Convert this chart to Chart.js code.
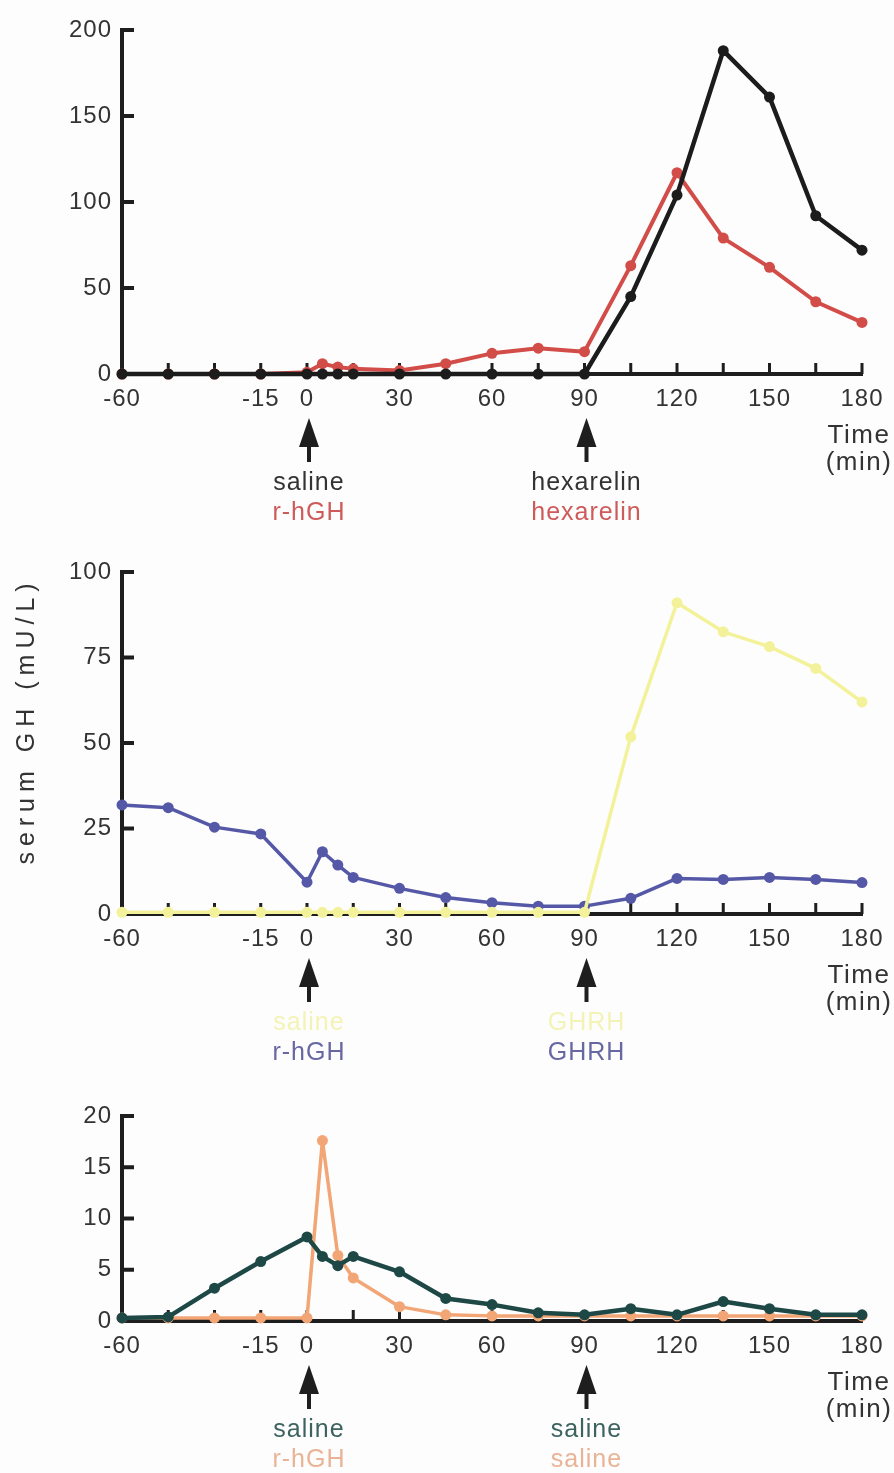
<!DOCTYPE html>
<html>
<head>
<meta charset="utf-8">
<script src="https://cdn.jsdelivr.net/npm/chart.js@4"></script>
<style>
  body { margin: 0; background: #fdfdfd; }
  canvas { position: absolute; left: 0; }
</style>
</head>
<body>
<canvas id="hexChart" width="894" height="545" style="top:0"></canvas>
<canvas id="ghrhChart" width="894" height="545" style="top:540px"></canvas>
<canvas id="salineChart" width="894" height="388" style="top:1085px"></canvas>
<script>
// sampling times (min)
const times = [-60, -45, -30, -15, 0, 5, 10, 15, 30, 45, 60, 75, 90, 105, 120, 135, 150, 165, 180];
const tickLabels = [-60, -15, 0, 30, 60, 90, 120, 150, 180];
const arrowTimes = [0, 90];

// panel 1: saline/r-hGH at 0, hexarelin at 90
const hexControl = [0, 0, 0, 0, 0, 0, 0, 0, 0, 0, 0, 0, 0, 45, 104, 188, 161, 92, 72];
const hexRhgh = [0, 0, 0, 0, 1, 6, 4, 3, 2, 6, 12, 15, 13, 63, 117, 79, 62, 42, 30];

// panel 2: saline/r-hGH at 0, GHRH at 90
const ghrhControl = [0.5, 0.5, 0.5, 0.5, 0.5, 0.5, 0.5, 0.5, 0.5, 0.5, 0.5, 0.5, 0.5, 51.8, 91, 82.5, 78.2, 71.8, 62];
const ghrhRhgh = [31.9, 31.1, 25.4, 23.4, 9.3, 18.2, 14.3, 10.7, 7.5, 4.8, 3.3, 2.3, 2.3, 4.6, 10.4, 10.1, 10.7, 10.1, 9.2];

// panel 3: saline/r-hGH at 0, saline at 90
const salControl = [0.3, 0.4, 3.2, 5.8, 8.2, 6.3, 5.4, 6.3, 4.8, 2.2, 1.6, 0.8, 0.6, 1.2, 0.6, 1.9, 1.2, 0.6, 0.6];
const salRhgh = [0.3, 0.3, 0.3, 0.3, 0.3, 17.6, 6.4, 4.2, 1.4, 0.6, 0.5, 0.5, 0.5, 0.5, 0.5, 0.5, 0.5, 0.5, 0.5];

const axisColor = "#1e1e1e";
const textColor = "#333333";
const family = "'Liberation Sans', Arial, sans-serif";

function pts(vals) {
  return vals.map((v, i) => ({ x: times[i], y: v }));
}

function series(vals, color, width) {
  return {
    data: pts(vals),
    borderColor: color,
    backgroundColor: color,
    borderWidth: width,
    borderJoinStyle: "round",
    borderCapStyle: "round",
    pointRadius: 5.5,
    pointBorderWidth: 0,
    pointBackgroundColor: color,
    tension: 0,
    clip: false
  };
}

// inward tick marks, arrows and the text under them
const notes = {
  id: "notes",
  beforeDraw(chart) {
    chart.ctx.letterSpacing = "1px";
  },
  beforeDatasetsDraw(chart) {
    const { ctx, chartArea: a, scales: { x, y } } = chart;
    ctx.save();
    ctx.strokeStyle = axisColor;
    ctx.lineWidth = 4;
    ctx.beginPath();
    y.ticks.forEach(t => {
      const py = y.getPixelForValue(t.value);
      ctx.moveTo(a.left, py);
      ctx.lineTo(a.left + 12, py);
    });
    ctx.stroke();
    ctx.lineWidth = 3;
    ctx.beginPath();
    x.ticks.forEach(t => {
      const px = x.getPixelForValue(t.value);
      ctx.moveTo(px, a.bottom);
      ctx.lineTo(px, a.bottom - 11);
    });
    ctx.stroke();
    ctx.restore();
  },
  afterDraw(chart, args, opts) {
    const { ctx, chartArea: a, scales: { x } } = chart;
    const base = a.bottom;
    ctx.save();
    arrowTimes.forEach((t, i) => {
      const px = x.getPixelForValue(t) + 2;
      ctx.fillStyle = axisColor;
      ctx.beginPath();
      ctx.moveTo(px, base + 44);
      ctx.lineTo(px + 10, base + 73);
      ctx.lineTo(px - 10, base + 73);
      ctx.closePath();
      ctx.fill();
      ctx.fillRect(px - 2, base + 70, 4, 18);
      ctx.font = "25px " + family;
      ctx.letterSpacing = "1px";
      ctx.textAlign = "center";
      ctx.textBaseline = "alphabetic";
      opts.rows.forEach((row, r) => {
        ctx.fillStyle = row.color;
        ctx.fillText(row.text[i], px, base + 116 + r * 30);
      });
    });
    ctx.fillStyle = textColor;
    ctx.font = "26px " + family;
    ctx.letterSpacing = "1.5px";
    ctx.textAlign = "center";
    ctx.fillText("Time", 859, base + 69);
    ctx.fillText("(min)", 859, base + 96);
    if (opts.axisTitle) {
      ctx.translate(27, opts.axisTitleY);
      ctx.rotate(-Math.PI / 2);
      ctx.font = "25px " + family;
      ctx.letterSpacing = "6px";
      ctx.textBaseline = "middle";
      ctx.fillText(opts.axisTitle, 0, 0);
    }
    ctx.restore();
  }
};

function panel(id, cfg) {
  return new Chart(document.getElementById(id), {
    type: "line",
    data: { datasets: cfg.datasets },
    options: {
      responsive: false,
      animation: false,
      events: [],
      layout: { padding: { top: cfg.padTop, right: 32, left: 0, bottom: 0 } },
      plugins: {
        legend: { display: false },
        tooltip: { enabled: false },
        notes: { rows: cfg.rows, axisTitle: cfg.axisTitle, axisTitleY: cfg.axisTitleY }
      },
      scales: {
        x: {
          type: "linear",
          min: -60,
          max: 180,
          afterFit: s => { s.height = cfg.xHeight; },
          grid: { display: false, drawTicks: false },
          border: { display: true, color: axisColor, width: 4 },
          ticks: {
            stepSize: 15,
            autoSkip: false,
            maxRotation: 0,
            padding: 11,
            color: textColor,
            font: { family, size: 24 },
            callback: v => tickLabels.includes(v) ? String(v) : ""
          }
        },
        y: {
          min: 0,
          max: cfg.max,
          afterFit: s => { s.width = 122; },
          grid: { display: false, drawTicks: false },
          border: { display: true, color: axisColor, width: 4 },
          ticks: {
            stepSize: cfg.step,
            padding: 10,
            color: textColor,
            font: { family, size: 24 }
          }
        }
      }
    },
    plugins: [notes]
  });
}

panel("hexChart", {
  padTop: 30, xHeight: 171, max: 200, step: 50,
  datasets: [series(hexControl, "#1c1c1c", 4.5), series(hexRhgh, "#d24c48", 4)],
  rows: [
    { text: ["saline", "hexarelin"], color: "#333333" },
    { text: ["r-hGH", "hexarelin"], color: "#cf5a5a" }
  ]
});

panel("ghrhChart", {
  padTop: 32, xHeight: 171, max: 100, step: 25,
  datasets: [series(ghrhControl, "#f3f29a", 3.5), series(ghrhRhgh, "#5558a6", 3.5)],
  rows: [
    { text: ["saline", "GHRH"], color: "#f4f3b6" },
    { text: ["r-hGH", "GHRH"], color: "#6767a4" }
  ],
  axisTitle: "serum GH (mU/L)",
  axisTitleY: 181
});

panel("salineChart", {
  padTop: 31, xHeight: 152, max: 20, step: 5,
  datasets: [series(salControl, "#1d4846", 4.5), series(salRhgh, "#f2a575", 3.5)],
  rows: [
    { text: ["saline", "saline"], color: "#3d6361" },
    { text: ["r-hGH", "saline"], color: "#ebb396" }
  ]
});
</script>
</body>
</html>
